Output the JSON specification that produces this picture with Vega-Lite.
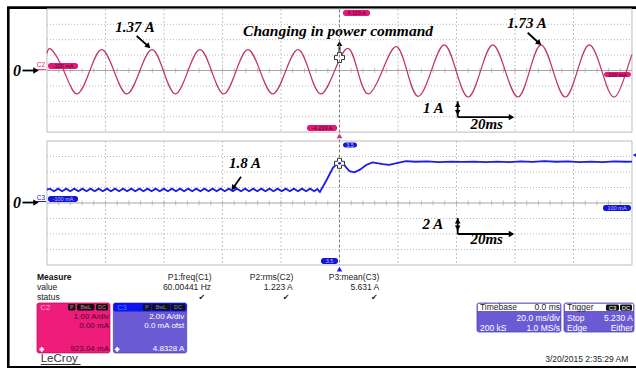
{
"$schema":"https://vega.github.io/schema/vega-lite/v6.json",
"width":636,"height":368,"autosize":{"type":"none"},"padding":0,
"background":"#ffffff",
"config":{"view":{"stroke":null},"text":{"font":"Liberation Sans"}},
"datasets":{
"ticks":[{"t":4,"a":0},{"t":8,"a":0},{"t":12,"a":0},{"t":16,"a":0},{"t":20,"a":0},{"t":24,"a":0},{"t":28,"a":0},{"t":32,"a":0},{"t":36,"a":0},{"t":40,"a":0},{"t":44,"a":0},{"t":48,"a":0},{"t":52,"a":0},{"t":56,"a":0},{"t":60,"a":0},{"t":64,"a":0},{"t":68,"a":0},{"t":72,"a":0},{"t":76,"a":0},{"t":80,"a":0},{"t":84,"a":0},{"t":88,"a":0},{"t":92,"a":0},{"t":96,"a":0},{"t":100,"a":0},{"t":104,"a":0},{"t":108,"a":0},{"t":112,"a":0},{"t":116,"a":0},{"t":120,"a":0},{"t":124,"a":0},{"t":128,"a":0},{"t":132,"a":0},{"t":136,"a":0},{"t":140,"a":0},{"t":144,"a":0},{"t":148,"a":0},{"t":152,"a":0},{"t":156,"a":0},{"t":160,"a":0},{"t":164,"a":0},{"t":168,"a":0},{"t":172,"a":0},{"t":176,"a":0},{"t":180,"a":0},{"t":184,"a":0},{"t":188,"a":0},{"t":192,"a":0},{"t":196,"a":0}],
"topsig":[{"t":0,"a":1.12},{"t":1.6,"a":1.35},{"t":5.9,"a":-0.08},{"t":10.2,"a":-1.52},{"t":14.5,"a":-0.08},{"t":18.7,"a":1.35},{"t":23.0,"a":-0.08},{"t":27.3,"a":-1.52},{"t":31.6,"a":-0.08},{"t":35.9,"a":1.35},{"t":39.9,"a":-0.08},{"t":43.9,"a":-1.52},{"t":48.1,"a":-0.08},{"t":52.3,"a":1.35},{"t":56.35,"a":-0.08},{"t":60.4,"a":-1.52},{"t":64.55,"a":-0.08},{"t":68.7,"a":1.35},{"t":72.95,"a":-0.08},{"t":77.2,"a":-1.52},{"t":81.5,"a":-0.08},{"t":85.8,"a":1.35},{"t":89.7,"a":-0.08},{"t":93.6,"a":-1.52},{"t":98.2,"a":-0.08},{"t":102.8,"a":1.44},{"t":106.3,"a":-0.08},{"t":109.8,"a":-1.52},{"t":114.55,"a":-0.06},{"t":119.3,"a":1.55},{"t":123.1,"a":-0.05},{"t":126.9,"a":-1.68},{"t":131.35,"a":-0.04},{"t":135.8,"a":1.66},{"t":139.9,"a":-0.04},{"t":144.0,"a":-1.72},{"t":148.2,"a":-0.04},{"t":152.4,"a":1.66},{"t":156.7,"a":-0.04},{"t":161.0,"a":-1.72},{"t":164.95,"a":-0.04},{"t":168.9,"a":1.66},{"t":173.05,"a":-0.04},{"t":177.2,"a":-1.72},{"t":181.3,"a":-0.04},{"t":185.4,"a":1.66},{"t":189.7,"a":-0.04},{"t":194.0,"a":-1.72},{"t":198.1,"a":-0.04},{"t":200,"a":1.05}],
"botsig":[{"t":0,"a":1.72},{"t":1.0,"a":1.85},{"t":2.39,"a":1.52},{"t":3.78,"a":1.85},{"t":5.17,"a":1.52},{"t":6.56,"a":1.85},{"t":7.95,"a":1.52},{"t":9.34,"a":1.85},{"t":10.73,"a":1.52},{"t":12.12,"a":1.85},{"t":13.51,"a":1.52},{"t":14.9,"a":1.85},{"t":16.29,"a":1.52},{"t":17.68,"a":1.85},{"t":19.07,"a":1.52},{"t":20.46,"a":1.85},{"t":21.85,"a":1.52},{"t":23.24,"a":1.85},{"t":24.63,"a":1.52},{"t":26.02,"a":1.85},{"t":27.41,"a":1.52},{"t":28.8,"a":1.85},{"t":30.19,"a":1.52},{"t":31.58,"a":1.85},{"t":32.97,"a":1.52},{"t":34.36,"a":1.85},{"t":35.75,"a":1.52},{"t":37.14,"a":1.85},{"t":38.53,"a":1.52},{"t":39.92,"a":1.85},{"t":41.31,"a":1.52},{"t":42.7,"a":1.85},{"t":44.09,"a":1.52},{"t":45.48,"a":1.85},{"t":46.87,"a":1.52},{"t":48.26,"a":1.85},{"t":49.65,"a":1.52},{"t":51.04,"a":1.85},{"t":52.43,"a":1.52},{"t":53.82,"a":1.85},{"t":55.21,"a":1.52},{"t":56.6,"a":1.85},{"t":57.99,"a":1.52},{"t":59.38,"a":1.85},{"t":60.77,"a":1.52},{"t":62.16,"a":1.85},{"t":63.55,"a":1.52},{"t":64.94,"a":1.85},{"t":66.33,"a":1.52},{"t":67.72,"a":1.85},{"t":69.11,"a":1.52},{"t":70.5,"a":1.85},{"t":71.89,"a":1.52},{"t":73.28,"a":1.85},{"t":74.67,"a":1.52},{"t":76.06,"a":1.85},{"t":77.45,"a":1.52},{"t":78.84,"a":1.85},{"t":80.23,"a":1.52},{"t":81.62,"a":1.85},{"t":83.01,"a":1.52},{"t":84.4,"a":1.85},{"t":85.79,"a":1.52},{"t":87.18,"a":1.85},{"t":88.57,"a":1.52},{"t":89.96,"a":1.85},{"t":91.35,"a":1.52},{"t":92.4,"a":1.8},{"t":93.3,"a":1.42},{"t":95.5,"a":2.9},{"t":97.7,"a":4.5},{"t":99.3,"a":5.15},{"t":100.2,"a":5.35},{"t":101.5,"a":4.95},{"t":103.4,"a":4.1},{"t":105.1,"a":3.95},{"t":107.0,"a":4.3},{"t":109.1,"a":4.9},{"t":111.3,"a":5.25},{"t":114.8,"a":5.02},{"t":117.0,"a":4.92},{"t":120.4,"a":5.2},{"t":122.7,"a":5.4},{"t":126,"a":5.32},{"t":130,"a":5.38},{"t":134,"a":5.28},{"t":138,"a":5.35},{"t":142,"a":5.3},{"t":146,"a":5.34},{"t":150,"a":5.27},{"t":154,"a":5.33},{"t":158,"a":5.28},{"t":162,"a":5.36},{"t":166,"a":5.3},{"t":170,"a":5.4},{"t":174,"a":5.32},{"t":178,"a":5.36},{"t":182,"a":5.28},{"t":186,"a":5.33},{"t":190,"a":5.28},{"t":194,"a":5.37},{"t":198,"a":5.32},{"t":200,"a":5.35}]
},
"resolve":{"scale":{"y":"independent"}},
"layer":[
{
"encoding":{
"x":{"field":"t","type":"quantitative","scale":{"domain":[-16.068,201.368],"nice":false,"zero":false},"axis":null},
"y":{"field":"a","type":"quantitative","scale":{"domain":[-19.318,4.578],"nice":false,"zero":false},"axis":null}
},
"layer":[
{"data":{"values":[{"t":-13.23,"t2":204,"a":4.084,"a2":-19.266}]},"mark":{"type":"rect","fillOpacity":0,"stroke":"#000000","strokeWidth":2.6},"encoding":{"x2":{"field":"t2"},"y2":{"field":"a2"}}},
{"data":{"values":[{"t":0,"t2":200,"a":4,"a2":-4}]},"mark":{"type":"rect","fillOpacity":0,"stroke":"#bdbdbd","strokeWidth":1},"encoding":{"x2":{"field":"t2"},"y2":{"field":"a2"}}},
{"data":{"values":[{"t":20,"t2":20,"a":4,"a2":-4},{"t":40,"t2":40,"a":4,"a2":-4},{"t":60,"t2":60,"a":4,"a2":-4},{"t":80,"t2":80,"a":4,"a2":-4},{"t":120,"t2":120,"a":4,"a2":-4},{"t":140,"t2":140,"a":4,"a2":-4},{"t":160,"t2":160,"a":4,"a2":-4},{"t":180,"t2":180,"a":4,"a2":-4}]},"mark":{"type":"rule","stroke":"#c4c4c4","strokeWidth":1,"strokeDash":[2,2]},"encoding":{"x2":{"field":"t2"},"y2":{"field":"a2"}}},
{"data":{"values":[{"t":0,"t2":200,"a":3,"a2":3},{"t":0,"t2":200,"a":2,"a2":2},{"t":0,"t2":200,"a":1,"a2":1},{"t":0,"t2":200,"a":-1,"a2":-1},{"t":0,"t2":200,"a":-2,"a2":-2},{"t":0,"t2":200,"a":-3,"a2":-3}]},"mark":{"type":"rule","stroke":"#b8b8b8","strokeWidth":1,"strokeDash":[1,2]},"encoding":{"x2":{"field":"t2"},"y2":{"field":"a2"}}},
{"data":{"values":[{"t":0,"t2":200,"a":0,"a2":0}]},"mark":{"type":"rule","stroke":"#a6a6a6","strokeWidth":1},"encoding":{"x2":{"field":"t2"},"y2":{"field":"a2"}}},
{"data":{"name":"ticks"},"mark":{"type":"tick","orient":"vertical","size":5,"thickness":1,"color":"#a6a6a6"}},
{"data":{"name":"topsig"},"mark":{"type":"line","interpolate":"natural","stroke":"#bd3566","strokeWidth":1.2}},
{"data":{"values":[{"t":0.34,"t2":10.6,"a":0.49,"a2":0.10},{"t":101.2,"t2":110.43,"a":3.93,"a2":3.54},{"t":88.89,"t2":99.15,"a":-3.54,"a2":-3.93},{"t":190.43,"t2":199.66,"a":-0.10,"a2":-0.42}]},"mark":{"type":"rect","fill":"#e5177b","cornerRadius":2.5},"encoding":{"x2":{"field":"t2"},"y2":{"field":"a2"}}},
{"data":{"values":[{"t":5.47,"a":0.29,"s":"-100 mA"},{"t":105.8,"a":3.73,"s":"4.119 A"},{"t":94.02,"a":-3.73,"s":"-4.219 A"},{"t":195.05,"a":-0.26,"s":"100 mA"}]},"mark":{"type":"text","fontSize":5.5,"color":"#3a0a1e","align":"center","baseline":"middle"},"encoding":{"text":{"field":"s"}}},
{"data":{"values":[{"t":-2.05,"a":0.38,"s":"C2"}]},"mark":{"type":"text","fontSize":6.5,"color":"#e5177b","align":"center","baseline":"middle"},"encoding":{"text":{"field":"s"}}},
{"data":{"values":[{"t":-3.76,"t2":-0.34,"a":0.05,"a2":0.05}]},"mark":{"type":"rule","stroke":"#e5177b","strokeWidth":1},"encoding":{"x2":{"field":"t2"},"y2":{"field":"a2"}}},
{"data":{"values":[{"t":-10.26,"a":0.0,"s":"0"}]},"mark":{"type":"text","font":"Liberation Serif","fontStyle":"italic","fontWeight":"bold","fontSize":16,"color":"#000000","align":"center","baseline":"middle"},"encoding":{"text":{"field":"s"}}},
{"data":{"values":[{"t":-8.38,"t2":-4.0,"a":0.0,"a2":0.0},{"t":30.67,"t2":34.67,"a":2.24,"a2":1.57},{"t":164.34,"t2":168.27,"a":2.45,"a2":1.77},{"t":100,"t2":100,"a":1.14,"a2":1.72},{"t":140.41,"t2":140.41,"a":-2.0,"a2":-3.03},{"t":140.41,"t2":158.6,"a":-3.03,"a2":-3.03}]},"mark":{"type":"rule","stroke":"#000000","strokeWidth":1.8},"encoding":{"x2":{"field":"t2"},"y2":{"field":"a2"}}},
{"data":{"values":[{"t":-3.76,"a":0.0},{"t":158.8,"a":-3.03}]},"mark":{"type":"point","shape":"triangle-up","angle":90,"filled":true,"color":"#000000","size":40,"opacity":1}},
{"data":{"values":[{"t":100,"a":1.75},{"t":140.41,"a":-2.21}]},"mark":{"type":"point","shape":"triangle-up","angle":0,"filled":true,"color":"#000000","size":32,"opacity":1}},
{"data":{"values":[{"t":140.41,"a":-2.73}]},"mark":{"type":"point","shape":"triangle-up","angle":180,"filled":true,"color":"#000000","size":32,"opacity":1}},
{"data":{"values":[{"t":34.67,"a":1.57},{"t":168.27,"a":1.77}]},"mark":{"type":"point","shape":"triangle-up","angle":132,"filled":true,"color":"#000000","size":40,"opacity":1}},
{"data":{"values":[{"t":30.09,"a":2.52,"s":"1.37 A"},{"t":164.1,"a":2.74,"s":"1.73 A"},{"t":132.1,"a":-2.78,"s":"1 A"},{"t":150.3,"a":-3.80,"s":"20ms"}]},"mark":{"type":"text","font":"Liberation Serif","fontStyle":"italic","fontWeight":"bold","fontSize":15,"color":"#000000","align":"center","baseline":"alphabetic"},"encoding":{"text":{"field":"s"}}},
{"data":{"values":[{"t":99.5,"a":2.26,"s":"Changing in power command"}]},"mark":{"type":"text","font":"Liberation Serif","fontStyle":"italic","fontWeight":"bold","fontSize":15.5,"color":"#000000","align":"center","baseline":"alphabetic"},"encoding":{"text":{"field":"s"}}},
{"data":{"values":[{"t":100,"a":0.84}]},"mark":{"type":"point","shape":"cross","filled":true,"fill":"#ffffff","stroke":"#333333","strokeWidth":1,"size":100,"opacity":1}},
{"data":{"values":[{"t":100,"a":-4.25}]},"mark":{"type":"point","shape":"triangle-up","filled":true,"color":"#e5177b","size":30,"opacity":1}}
]
},
{
"encoding":{
"x":{"field":"t","type":"quantitative","scale":{"domain":[-16.068,201.368],"nice":false,"zero":false},"axis":null},
"y":{"field":"a","type":"quantitative","scale":{"domain":[-21.290,26.194],"nice":false,"zero":false},"axis":null}
},
"layer":[
{"data":{"values":[{"t":0,"t2":200,"a":8,"a2":-8}]},"mark":{"type":"rect","fillOpacity":0,"stroke":"#bdbdbd","strokeWidth":1},"encoding":{"x2":{"field":"t2"},"y2":{"field":"a2"}}},
{"data":{"values":[{"t":20,"t2":20,"a":8,"a2":-8},{"t":40,"t2":40,"a":8,"a2":-8},{"t":60,"t2":60,"a":8,"a2":-8},{"t":80,"t2":80,"a":8,"a2":-8},{"t":120,"t2":120,"a":8,"a2":-8},{"t":140,"t2":140,"a":8,"a2":-8},{"t":160,"t2":160,"a":8,"a2":-8},{"t":180,"t2":180,"a":8,"a2":-8}]},"mark":{"type":"rule","stroke":"#c4c4c4","strokeWidth":1,"strokeDash":[2,2]},"encoding":{"x2":{"field":"t2"},"y2":{"field":"a2"}}},
{"data":{"values":[{"t":0,"t2":200,"a":6,"a2":6},{"t":0,"t2":200,"a":4,"a2":4},{"t":0,"t2":200,"a":2,"a2":2},{"t":0,"t2":200,"a":-2,"a2":-2},{"t":0,"t2":200,"a":-4,"a2":-4},{"t":0,"t2":200,"a":-6,"a2":-6}]},"mark":{"type":"rule","stroke":"#b8b8b8","strokeWidth":1,"strokeDash":[1,2]},"encoding":{"x2":{"field":"t2"},"y2":{"field":"a2"}}},
{"data":{"values":[{"t":0,"t2":200,"a":0,"a2":0}]},"mark":{"type":"rule","stroke":"#a6a6a6","strokeWidth":1},"encoding":{"x2":{"field":"t2"},"y2":{"field":"a2"}}},
{"data":{"name":"ticks"},"mark":{"type":"tick","orient":"vertical","size":5,"thickness":1,"color":"#a6a6a6"}},
{"data":{"values":[{"t":100,"t2":100,"a":24.97,"a2":-8}]},"mark":{"type":"rule","stroke":"#7a7a7a","strokeWidth":1,"strokeDash":[3,2]},"encoding":{"x2":{"field":"t2"},"y2":{"field":"a2"}}},
{"data":{"name":"botsig"},"mark":{"type":"line","stroke":"#1c1ce6","strokeWidth":1.8}},
{"data":{"values":[{"t":0.34,"t2":10.6,"a":0.90,"a2":0.13},{"t":101.2,"t2":105.98,"a":7.81,"a2":7.16},{"t":190.09,"t2":199.66,"a":-0.26,"a2":-1.03},{"t":93.68,"t2":99.49,"a":-7.10,"a2":-7.87}]},"mark":{"type":"rect","fill":"#1515d8","cornerRadius":2.5},"encoding":{"x2":{"field":"t2"},"y2":{"field":"a2"}}},
{"data":{"values":[{"t":5.47,"a":0.52,"s":"-100 mA"},{"t":103.6,"a":7.48,"s":"3.5"},{"t":194.9,"a":-0.65,"s":"100 mA"},{"t":96.6,"a":-7.48,"s":"3.5"}]},"mark":{"type":"text","fontSize":5.5,"color":"#b8c0ff","align":"center","baseline":"middle"},"encoding":{"text":{"field":"s"}}},
{"data":{"values":[{"t":-2.05,"a":0.71,"s":"C3"}]},"mark":{"type":"text","fontSize":6.5,"color":"#2020d0","align":"center","baseline":"middle"},"encoding":{"text":{"field":"s"}}},
{"data":{"values":[{"t":-3.76,"t2":-0.34,"a":0.19,"a2":0.19}]},"mark":{"type":"rule","stroke":"#2020d0","strokeWidth":1},"encoding":{"x2":{"field":"t2"},"y2":{"field":"a2"}}},
{"data":{"values":[{"t":-10.26,"a":0.06,"s":"0"}]},"mark":{"type":"text","font":"Liberation Serif","fontStyle":"italic","fontWeight":"bold","fontSize":16,"color":"#000000","align":"center","baseline":"middle"},"encoding":{"text":{"field":"s"}}},
{"data":{"values":[{"t":-8.38,"t2":-4.0,"a":0.06,"a2":0.06},{"t":66.32,"t2":63.63,"a":3.39,"a2":1.94},{"t":140.41,"t2":140.41,"a":-1.94,"a2":-4.0},{"t":140.41,"t2":158.6,"a":-4.0,"a2":-4.0}]},"mark":{"type":"rule","stroke":"#000000","strokeWidth":1.8},"encoding":{"x2":{"field":"t2"},"y2":{"field":"a2"}}},
{"data":{"values":[{"t":-3.76,"a":0.06},{"t":158.8,"a":-4.0}]},"mark":{"type":"point","shape":"triangle-up","angle":90,"filled":true,"color":"#000000","size":40,"opacity":1}},
{"data":{"values":[{"t":140.41,"a":-2.32}]},"mark":{"type":"point","shape":"triangle-up","angle":0,"filled":true,"color":"#000000","size":32,"opacity":1}},
{"data":{"values":[{"t":140.41,"a":-3.23}]},"mark":{"type":"point","shape":"triangle-up","angle":180,"filled":true,"color":"#000000","size":32,"opacity":1}},
{"data":{"values":[{"t":63.63,"a":1.94}]},"mark":{"type":"point","shape":"triangle-up","angle":215,"filled":true,"color":"#000000","size":40,"opacity":1}},
{"data":{"values":[{"t":67.7,"a":4.55,"s":"1.8 A"},{"t":131.9,"a":-3.40,"s":"2 A"},{"t":150.3,"a":-5.33,"s":"20ms"}]},"mark":{"type":"text","font":"Liberation Serif","fontStyle":"italic","fontWeight":"bold","fontSize":15,"color":"#000000","align":"center","baseline":"alphabetic"},"encoding":{"text":{"field":"s"}}},
{"data":{"values":[{"t":100,"a":5.12}]},"mark":{"type":"point","shape":"cross","filled":true,"fill":"#ffffff","stroke":"#333333","strokeWidth":1,"size":100,"opacity":1}},
{"data":{"values":[{"t":100,"a":5.12}]},"mark":{"type":"point","shape":"circle","filled":true,"color":"#1c1ce6","size":8,"opacity":1}},
{"data":{"values":[{"t":100,"a":-8.52}]},"mark":{"type":"point","shape":"triangle-up","filled":true,"color":"#1c1ce6","size":30,"opacity":1}},
{"data":{"values":[{"t":200.9,"a":6.19}]},"mark":{"type":"point","shape":"triangle-left","filled":true,"color":"#1c1ce6","size":18,"opacity":1}},
{"data":{"values":[{"t":-3.42,"t2":21.54,"a":-12.90,"a2":-19.35}]},"mark":{"type":"rect","fill":"#ee1c7b","stroke":"#b01058","strokeWidth":0.7,"cornerRadius":2},"encoding":{"x2":{"field":"t2"},"y2":{"field":"a2"}}},
{"data":{"values":[{"t":22.68,"t2":47.76,"a":-12.90,"a2":-19.35},{"t":147.0,"t2":175.73,"a":-12.90,"a2":-16.65},{"t":176.75,"t2":200.68,"a":-12.90,"a2":-16.65}]},"mark":{"type":"rect","fill":"#6a5bd4","stroke":"#4a3cb0","strokeWidth":0.7,"cornerRadius":2},"encoding":{"x2":{"field":"t2"},"y2":{"field":"a2"}}},
{"data":{"values":[{"t":22.68,"t2":47.76,"a":-12.90,"a2":-14.0}]},"mark":{"type":"rect","fill":"#0a14f0","cornerRadius":2},"encoding":{"x2":{"field":"t2"},"y2":{"field":"a2"}}},
{"data":{"values":[{"t":147.3,"t2":175.45,"a":-13.0,"a2":-13.95},{"t":177.05,"t2":200.4,"a":-13.0,"a2":-13.95}]},"mark":{"type":"rect","fill":"#ffffff"},"encoding":{"x2":{"field":"t2"},"y2":{"field":"a2"}}},
{"data":{"values":[{"t":7.18,"t2":9.74,"a":-13.03,"a2":-13.87},{"t":10.26,"t2":16.24,"a":-13.03,"a2":-13.87},{"t":16.75,"t2":20.85,"a":-13.03,"a2":-13.87},{"t":32.82,"t2":35.56,"a":-13.03,"a2":-13.87},{"t":35.9,"t2":42.05,"a":-13.03,"a2":-13.87},{"t":42.39,"t2":47.18,"a":-13.03,"a2":-13.87},{"t":191.1,"t2":195.56,"a":-13.1,"a2":-13.9},{"t":195.9,"t2":200.0,"a":-13.1,"a2":-13.9}]},"mark":{"type":"rect","fill":"#111111","cornerRadius":1.5},"encoding":{"x2":{"field":"t2"},"y2":{"field":"a2"}}},
{"data":{"values":[{"t":8.46,"a":-13.45,"s":"P"},{"t":13.25,"a":-13.45,"s":"BwL"},{"t":18.8,"a":-13.45,"s":"DC"}]},"mark":{"type":"text","fontSize":5.5,"color":"#f06aa8","align":"center","baseline":"middle"},"encoding":{"text":{"field":"s"}}},
{"data":{"values":[{"t":34.19,"a":-13.45,"s":"P"},{"t":38.98,"a":-13.45,"s":"BwL"},{"t":44.78,"a":-13.45,"s":"DC"}]},"mark":{"type":"text","fontSize":5.5,"color":"#7a7aff","align":"center","baseline":"middle"},"encoding":{"text":{"field":"s"}}},
{"data":{"values":[{"t":193.33,"a":-13.5,"s":"C3"},{"t":197.95,"a":-13.5,"s":"DC"}]},"mark":{"type":"text","fontSize":6,"color":"#ffffff","align":"center","baseline":"middle"},"encoding":{"text":{"field":"s"}}},
{"data":{"values":[{"t":-2.2,"a":-13.5,"s":"C2"}]},"mark":{"type":"text","fontSize":7.5,"color":"#ffb4d4","align":"left","baseline":"middle"},"encoding":{"text":{"field":"s"}}},
{"data":{"values":[{"t":24.0,"a":-13.5,"s":"C3"}]},"mark":{"type":"text","fontSize":7.5,"color":"#5a7aff","align":"left","baseline":"middle"},"encoding":{"text":{"field":"s"}}},
{"data":{"values":[{"t":21.2,"a":-14.65,"s":"1.00 A/div"},{"t":21.2,"a":-15.92,"s":"0.00 mA"},{"t":21.2,"a":-18.88,"s":"923.04 mA"}]},"mark":{"type":"text","fontSize":8,"color":"#4a0a24","align":"right","baseline":"middle"},"encoding":{"text":{"field":"s"}}},
{"data":{"values":[{"t":46.94,"a":-14.65,"s":"2.00  A/div"},{"t":46.94,"a":-15.92,"s":"0.0 mA ofst"},{"t":46.94,"a":-18.88,"s":"4.8328 A"}]},"mark":{"type":"text","fontSize":8,"color":"#ffffff","align":"right","baseline":"middle"},"encoding":{"text":{"field":"s"}}},
{"data":{"values":[{"t":175.4,"a":-14.81,"s":"20.0 ms/div"},{"t":175.4,"a":-16.17,"s":"1.0 MS/s"},{"t":200.3,"a":-14.81,"s":"5.230 A"},{"t":200.3,"a":-16.17,"s":"Either"}]},"mark":{"type":"text","fontSize":8.5,"color":"#ffffff","align":"right","baseline":"middle"},"encoding":{"text":{"field":"s"}}},
{"data":{"values":[{"t":148.03,"a":-16.17,"s":"200 kS"},{"t":177.78,"a":-14.81,"s":"Stop"},{"t":177.78,"a":-16.17,"s":"Edge"}]},"mark":{"type":"text","fontSize":8.5,"color":"#ffffff","align":"left","baseline":"middle"},"encoding":{"text":{"field":"s"}}},
{"data":{"values":[{"t":-1.81,"a":-18.88},{"t":24.0,"a":-18.88}]},"mark":{"type":"point","shape":"cross","filled":true,"color":"#ffffff","size":22,"opacity":1}},
{"data":{"values":[{"t":-3.42,"a":-9.51,"s":"Measure"}]},"mark":{"type":"text","fontSize":8.5,"fontWeight":"bold","color":"#111111","align":"left","baseline":"middle"},"encoding":{"text":{"field":"s"}}},
{"data":{"values":[{"t":-3.42,"a":-10.88,"s":"value"},{"t":-3.42,"a":-12.19,"s":"status"},{"t":148.03,"a":-13.48,"s":"Timebase"},{"t":177.78,"a":-13.48,"s":"Trigger"}]},"mark":{"type":"text","fontSize":8.5,"color":"#222222","align":"left","baseline":"middle"},"encoding":{"text":{"field":"s"}}},
{"data":{"values":[{"t":56.3,"a":-9.51,"s":"P1:freq(C1)"},{"t":56.1,"a":-10.88,"s":"60.00441 Hz"},{"t":84.2,"a":-9.51,"s":"P2:rms(C2)"},{"t":84.0,"a":-10.88,"s":"1.223  A"},{"t":113.6,"a":-9.51,"s":"P3:mean(C3)"},{"t":113.6,"a":-10.88,"s":"5.631 A"},{"t":175.4,"a":-13.48,"s":"0.0 ms"},{"t":198.75,"a":-20.13,"s":"3/20/2015 2:35:29 AM"}]},"mark":{"type":"text","fontSize":8.5,"color":"#222222","align":"right","baseline":"middle"},"encoding":{"text":{"field":"s"}}},
{"data":{"values":[{"t":52.9,"a":-12.3,"s":"✔"},{"t":81.7,"a":-12.3,"s":"✔"},{"t":111.9,"a":-12.3,"s":"✔"}]},"mark":{"type":"text","font":"DejaVu Sans","fontSize":8,"color":"#222222","align":"center","baseline":"middle"},"encoding":{"text":{"field":"s"}}},
{"data":{"values":[{"t":-2.15,"a":-20.19,"s":"LeCroy"}]},"mark":{"type":"text","fontSize":11.5,"color":"#333333","align":"left","baseline":"middle"},"encoding":{"text":{"field":"s"}}},
{"data":{"values":[{"t":-2.15,"t2":11.52,"a":-20.84,"a2":-20.84}]},"mark":{"type":"rule","stroke":"#333333","strokeWidth":1},"encoding":{"x2":{"field":"t2"},"y2":{"field":"a2"}}}
]
}
]
}
